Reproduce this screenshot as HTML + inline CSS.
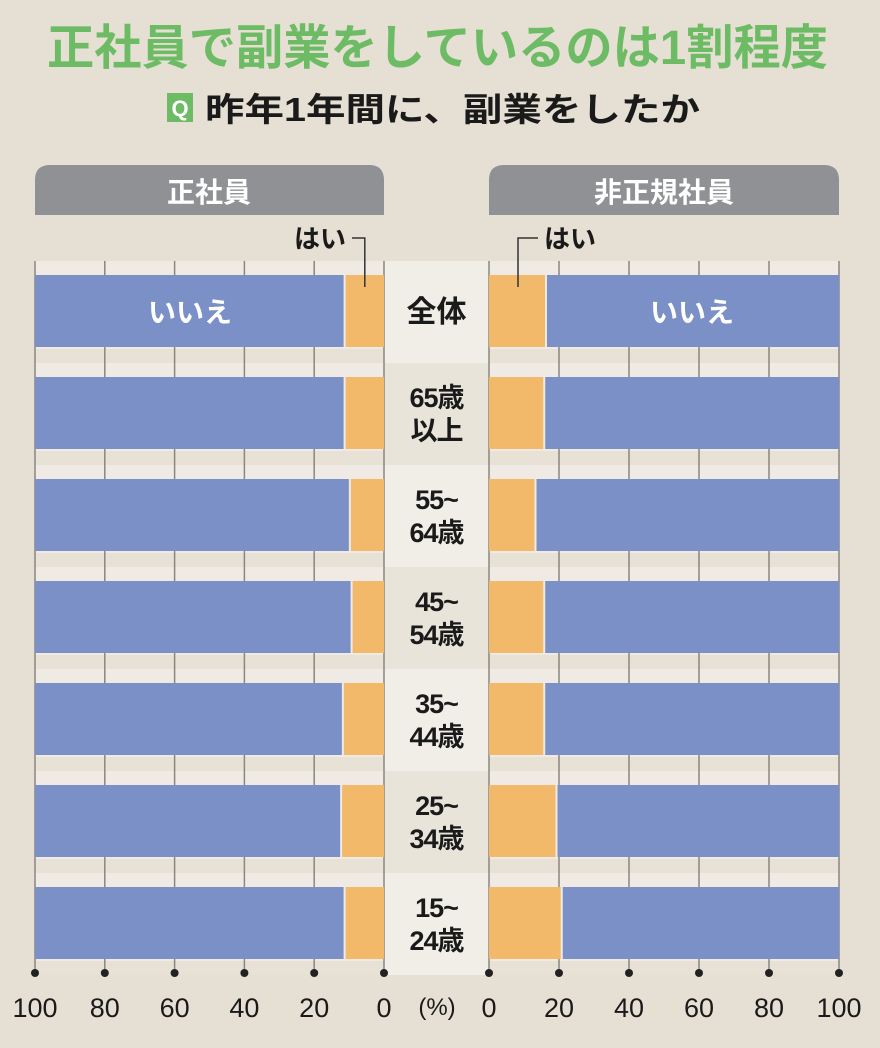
<!DOCTYPE html>
<html><head><meta charset="utf-8"><style>
body{margin:0;background:#e6e0d4;}
svg{display:block;font-family:"Liberation Sans","Noto Sans CJK JP",sans-serif;}
</style></head><body>
<svg id="c" width="880" height="1048" viewBox="0 0 880 1048">
<rect x="0" y="0" width="880" height="1048" fill="#e6e0d4"/>
<text x="47" y="64" font-size="48" font-weight="bold" fill="#6dbb64" textLength="781" lengthAdjust="spacingAndGlyphs">正社員で副業をしているのは1割程度</text>
<rect x="167" y="93" width="26" height="29" fill="#6dbb64"/>
<text x="180" y="116" text-anchor="middle" font-size="22" font-weight="bold" fill="#fff">Q</text>
<text x="205" y="121" font-size="33" font-weight="bold" fill="#1a1a1a" textLength="495" lengthAdjust="spacingAndGlyphs">昨年1年間に、副業をしたか</text>
<path d="M35,215 V180 Q35,165 50,165 H369 Q384,165 384,180 V215 Z" fill="#8f9194"/>
<text x="209" y="202" text-anchor="middle" font-size="28" font-weight="bold" fill="#fff">正社員</text>
<path d="M489,215 V180 Q489,165 504,165 H824 Q839,165 839,180 V215 Z" fill="#8f9194"/>
<text x="664" y="202" text-anchor="middle" font-size="28" font-weight="bold" fill="#fff">非正規社員</text>
<g id="g"></g>
</svg>
<script>
const categories=["全体","65歳|以上","55~|64歳","45~|54歳","35~|44歳","25~|34歳","15~|24歳"];
const regularYes=[11,11,9.5,9,11.5,12,11];
const nonRegularYes=[16,15.5,13,15.5,15.5,19,20.5];
const tickValues=[0,20,40,60,80,100];
const NS="http://www.w3.org/2000/svg";
const g=document.getElementById('g');
const L0=384,L100=35,R0=489,R100=839;
const xl=v=>L0-(L0-L100)*v/100;
const xr=v=>R0+(R100-R0)*v/100;
const rowTop=i=>261+i*102;
function el(t,a,p){const e=document.createElementNS(NS,t);for(const k in a)e.setAttribute(k,a[k]);(p||g).appendChild(e);return e;}
let bg=el('rect',{x:35,y:261,width:804,height:712,fill:'#efebe4'});


categories.forEach((c,i)=>{
  const y=rowTop(i);
  let d=el('rect',{x:35,y:y+102-14,width:804,height:14,fill:'#e7e1d6'});
  
  
  let cb=el('rect',{x:L0,y:y,width:R0-L0,height:102,fill:i%2?'#e9e4da':'#f1eee8'});
  
  
});
tickValues.forEach(v=>{
  [xl(v),xr(v)].forEach(x=>{
    let l=el('line',{x1:x,x2:x,y1:261,y2:973,stroke:'#8a8680','stroke-width':1.5});
    
    
  });
});
categories.forEach((c,i)=>{
  const y=rowTop(i)+14,h=72;
  const a=regularYes[i],b=nonRegularYes[i];
  let r1=el('rect',{x:xl(100),y:y,width:xl(a)-xl(100)-2,height:h,fill:'#7a90c6'});
  
  
  let r2=el('rect',{x:xl(a),y:y,width:xl(0)-xl(a),height:h,fill:'#f2b96b'});
  
  
  let r3=el('rect',{x:xr(0),y:y,width:xr(b)-xr(0),height:h,fill:'#f2b96b'});
  
  
  let r4=el('rect',{x:xr(b)+2,y:y,width:xr(100)-xr(b)-2,height:h,fill:'#7a90c6'});
  
  
  const parts=c.split('|');
  const cx=(L0+R0)/2;
  if(parts.length===1){
    let t=el('text',{x:cx,y:y+47,'text-anchor':'middle','font-size':30,'font-weight':'bold',fill:'#1a1a1a'});t.textContent=parts[0];
    
    
  }else{
    parts.forEach((p,k)=>{
      let t=el('text',{x:cx,y:y+30+k*33,'text-anchor':'middle','font-size':27,'font-weight':'bold',fill:'#1a1a1a','letter-spacing':-1});t.textContent=p;
      
      
    });
  }
});
let t1=el('text',{x:190,y:322,'text-anchor':'middle','font-size':28,'font-weight':'bold',fill:'#fff'});t1.textContent='いいえ';


let t2=el('text',{x:692,y:322,'text-anchor':'middle','font-size':28,'font-weight':'bold',fill:'#fff'});t2.textContent='いいえ';


let hx=(xl(regularYes[0])+L0)/2;
let p1=el('path',{d:`M352,238 H${hx} V287`,fill:'none',stroke:'#333','stroke-width':1.5});


let h1=el('text',{x:346,y:248,'text-anchor':'end','font-size':26,'font-weight':'bold',fill:'#1a1a1a'});h1.textContent='はい';


let hx2=(xr(nonRegularYes[0])+R0)/2+1;
let p2=el('path',{d:`M538,238 H${hx2} V287`,fill:'none',stroke:'#333','stroke-width':1.5});


let h2=el('text',{x:544,y:248,'font-size':26,'font-weight':'bold',fill:'#1a1a1a'});h2.textContent='はい';


tickValues.forEach(v=>{
  [[xl(v),'left'],[xr(v),'right']].forEach(([x,s])=>{
    let d=el('circle',{cx:x,cy:973,r:4,fill:'#222'});
    
    
    let t=el('text',{x:x,y:1017,'text-anchor':'middle','font-size':27,fill:'#1a1a1a'});t.textContent=v;
    
    
  });
});
let u=el('text',{x:437,y:1015,'text-anchor':'middle','font-size':24,fill:'#1a1a1a'});u.textContent='(%)';


</script>
</body></html>
